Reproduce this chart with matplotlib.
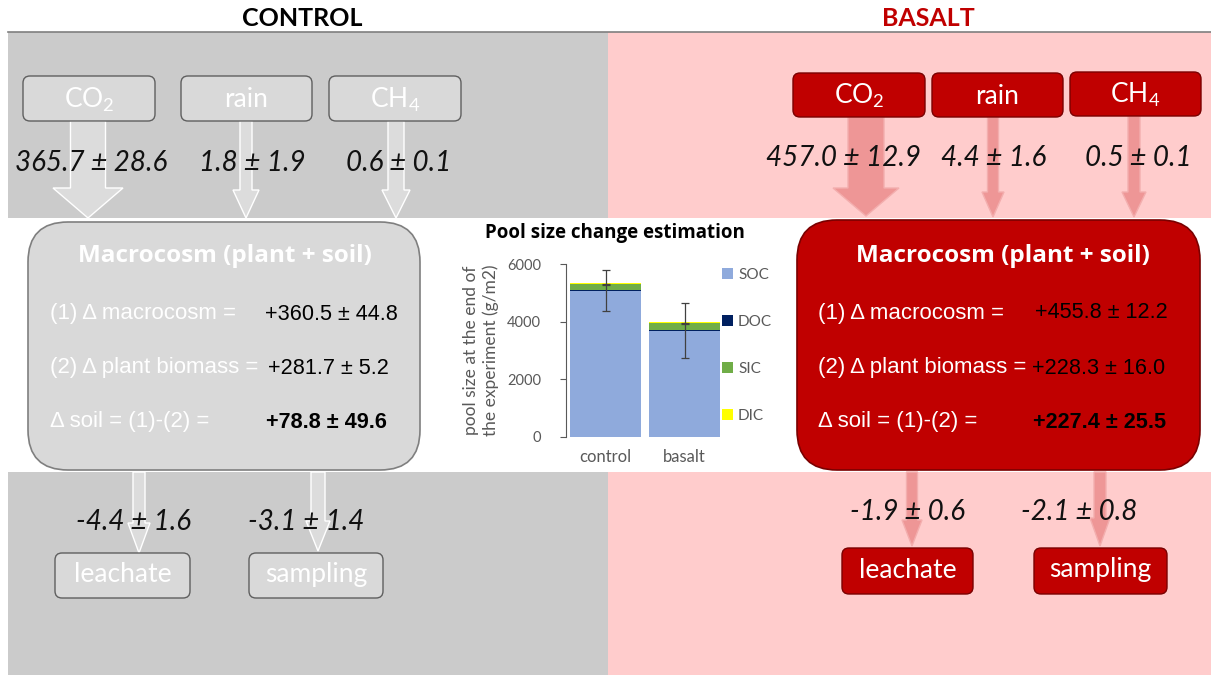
import matplotlib.pyplot as plt
from matplotlib.patches import FancyBboxPatch, FancyArrow, Rectangle, Patch

W, H = 1211, 675

# fluxes (g C / m2)
inputs = ['CO$_\\mathregular{2}$', 'rain', 'CH$_\\mathregular{4}$']
outputs = ['leachate', 'sampling']
ctrl_in = [365.7, 1.8, 0.6]
ctrl_in_sd = [28.6, 1.9, 0.1]
bas_in = [457.0, 4.4, 0.5]
bas_in_sd = [12.9, 1.6, 0.1]
ctrl_out = [-4.4, -3.1]
ctrl_out_sd = [1.6, 1.4]
bas_out = [-1.9, -2.1]
bas_out_sd = [0.6, 0.8]
delta_labels = ['(1) \u0394 macrocosm =', '(2) \u0394 plant biomass =', '\u0394 soil = (1)-(2) =']
ctrl_delta = [360.5, 281.7, 78.8]
ctrl_delta_sd = [44.8, 5.2, 49.6]
bas_delta = [455.8, 228.3, 227.4]
bas_delta_sd = [12.2, 16.0, 25.5]

# inset: pool size at the end of the experiment (g/m2)
groups = ['control', 'basalt']
soc = [5075, 3690]
doc = [8, 8]
sic = [210, 250]
dic = [40, 35]
soc_err = [720, 945]
sic_err = [15, 15]

plt.rcParams['font.family'] = ['Lato', 'DejaVu Sans']

fig = plt.figure(figsize=(W / 100, H / 100), dpi=100)
bg = fig.add_axes([0, 0, 1, 1])
bg.set_xlim(0, W)
bg.set_ylim(H, 0)
bg.axis('off')

GREY, PINK, RED = '#CBCBCB', '#FFCCCC', '#C00000'

# background bands
for y0, y1 in [(32, 218), (472, 675)]:
    bg.add_patch(Rectangle((8, y0), 600, y1 - y0, fc=GREY, ec='none', zorder=0))
    bg.add_patch(Rectangle((608, y0), W - 608, y1 - y0, fc=PINK, ec='none', zorder=0))
bg.plot([8, W], [32, 32], color='#7F7F7F', lw=1.2, zorder=1)

bg.text(302, 18, 'CONTROL', ha='center', va='center', fontsize=18, fontweight='bold', color='black')
bg.text(928, 18, 'BASALT', ha='center', va='center', fontsize=18, fontweight='bold', color=RED)


def box(x, y, w, h, fc, ec, r=7, lw=1.0):
    bg.add_patch(FancyBboxPatch((x, y), w, h, boxstyle=f'round,pad=0,rounding_size={r}',
                                fc=fc, ec=ec, lw=lw, zorder=3))


def arrow(x, y0, y1, w, hw, hl, fc, ec):
    bg.add_patch(FancyArrow(x, y0, 0, y1 - y0, width=w, head_width=hw, head_length=hl,
                            length_includes_head=True, fc=fc, ec=ec, lw=1, zorder=2))


def pm(v, sd, sign=False):
    s = f'{v:+.1f}' if sign else f'{v:.1f}'
    return f'{s} \u00b1 {sd:.1f}'


panels = [
    dict(fc='#D9D9D9', ec='#5F5F5F', mec='#7F7F7F', afc='#DCDCDC', aec='white',
         inb=[(23, 76, 132, 45), (181, 76, 131, 45), (329, 76, 132, 45)],
         inarr=[(88, 121, 218, 35, 70, 30), (246, 121, 218, 12, 26, 28), (396, 121, 218, 16, 28, 28)],
         innum=[(91, 163), (252, 163), (399, 163)], vin=ctrl_in, sdin=ctrl_in_sd,
         mac=(28, 222, 392, 248), title=(225, 256), lx=50, vx=[265, 268, 266],
         ly=[314, 368, 422], vd=ctrl_delta, sdd=ctrl_delta_sd,
         outarr=[(139, 472, 553, 12, 22, 30), (318, 472, 551, 14, 24, 30)],
         outnum=[(134, 522), (306, 522)], vout=ctrl_out, sdout=ctrl_out_sd,
         outb=[(55, 553, 135, 45), (249, 553, 134, 45)]),
    dict(fc=RED, ec='#7A0000', mec='#7A0000', afc='#EE9696', aec='#F3AEAE',
         inb=[(793, 73, 132, 44), (932, 73, 131, 44), (1070, 72, 131, 44)],
         inarr=[(866, 117, 216, 36, 66, 28), (993, 117, 217, 11, 22, 25), (1134, 116, 217, 12, 24, 25)],
         innum=[(843, 158), (994, 158), (1138, 158)], vin=bas_in, sdin=bas_in_sd,
         mac=(797, 220, 403, 250), title=(1003, 256), lx=818, vx=[1035, 1032, 1033],
         ly=[313, 368, 422], vd=bas_delta, sdd=bas_delta_sd,
         outarr=[(912, 472, 546, 11, 20, 26), (1100, 472, 546, 12, 20, 28)],
         outnum=[(907, 512), (1079, 512)], vout=bas_out, sdout=bas_out_sd,
         outb=[(842, 548, 131, 46), (1034, 548, 133, 46)]),
]

for p in panels:
    for (x, y, w, h), lab in zip(p['inb'], inputs):
        box(x, y, w, h, p['fc'], p['ec'])
        bg.text(x + w / 2, y + h / 2 + 1, lab, ha='center', va='center', fontsize=19,
                color='white', zorder=5)
    for a in p['inarr'] + p['outarr']:
        arrow(*a, p['afc'], p['aec'])
    for (x, y), v, sd in zip(p['innum'], p['vin'], p['sdin']):
        bg.text(x, y, pm(v, sd), ha='center', va='center', fontsize=20, style='italic',
                color='#111111', zorder=5)
    for (x, y), v, sd in zip(p['outnum'], p['vout'], p['sdout']):
        bg.text(x, y, pm(v, sd), ha='center', va='center', fontsize=20, style='italic',
                color='#111111', zorder=5)
    for (x, y, w, h), lab in zip(p['outb'], outputs):
        box(x, y, w, h, p['fc'], p['ec'])
        bg.text(x + w / 2, y + h / 2 - 1, lab, ha='center', va='center', fontsize=19,
                color='white', zorder=5)
    mx, my, mw, mh = p['mac']
    box(mx, my, mw, mh, p['fc'], p['mec'], r=40, lw=1.2)
    bg.text(*p['title'], 'Macrocosm (plant + soil)', ha='center', va='center', fontsize=17.5,
            fontweight='bold', family='Open Sans', color='white', zorder=5)
    for i, (lab, v, sd) in enumerate(zip(delta_labels, p['vd'], p['sdd'])):
        bg.text(p['lx'], p['ly'][i], lab, ha='left', va='center', fontsize=16,
                family='Liberation Sans', color='white', zorder=5)
        bg.text(p['vx'][i], p['ly'][i], pm(v, sd, sign=True), ha='left', va='center',
                fontsize=15.6, family='Liberation Sans', color='black',
                fontweight='bold' if i == 2 else 'normal', zorder=5)

# inset stacked bar chart
ax = fig.add_axes([566 / W, 1 - 437 / H, 158 / W, 173 / H])
ax.patch.set_alpha(0)
xs = range(len(groups))
bw = 0.9
ax.bar(xs, soc, bw, color='#8FAADC', label='SOC', zorder=2)
bot = [a for a in soc]
ax.bar(xs, doc, bw, bottom=bot, color='#002060', label='DOC', zorder=2)
bot = [a + b for a, b in zip(bot, doc)]
ax.bar(xs, sic, bw, bottom=bot, color='#70AD47', label='SIC', zorder=2)
sic_top = [a + b for a, b in zip(bot, sic)]
ax.bar(xs, dic, bw, bottom=sic_top, color='#FFFF00', label='DIC', zorder=2)
ax.errorbar(xs, soc, yerr=soc_err, fmt='none', ecolor='#404040', elinewidth=0.9,
            capsize=3, capthick=0.9, zorder=3)
ax.errorbar(xs, sic_top, yerr=sic_err, fmt='none', ecolor='#404040', elinewidth=0.9,
            capsize=3, capthick=0.9, zorder=3)
ax.set_xlim(-0.5, 1.5)
ax.set_ylim(0, 6000)
ax.set_yticks([0, 2000, 4000, 6000])
ax.set_xticks(list(xs))
ax.set_xticklabels(groups)
for s in ['top', 'right', 'bottom']:
    ax.spines[s].set_visible(False)
ax.spines['left'].set_color('#595959')
ax.spines['left'].set_linewidth(0.8)
ax.tick_params(axis='y', colors='#595959', labelsize=10.5, length=4, width=0.8, pad=14)
ax.tick_params(axis='x', colors='#595959', labelsize=12, length=0, pad=9)
ax.set_ylabel('pool size at the end of\nthe experiment (g/m2)', color='#595959',
              fontsize=12.5, linespacing=1.25, labelpad=6)
handles = [Patch(fc=c, label=l) for c, l in
           [('#8FAADC', 'SOC'), ('#002060', 'DOC'), ('#70AD47', 'SIC'), ('#FFFF00', 'DIC')]]
fig.legend(handles=handles, loc='upper left', bbox_to_anchor=(722 / W, 1 - 268 / H),
           frameon=False, fontsize=11, labelcolor='#595959', labelspacing=2.15,
           handlelength=0.7, handleheight=0.7, handletextpad=0.35, borderpad=0,
           borderaxespad=0)
fig.text(615 / W, 1 - 233 / H, 'Pool size change estimation', ha='center', va='center',
         fontsize=13.5, fontweight='bold', family='Open Sans', color='black')

fig.savefig('out.png', dpi=100)
